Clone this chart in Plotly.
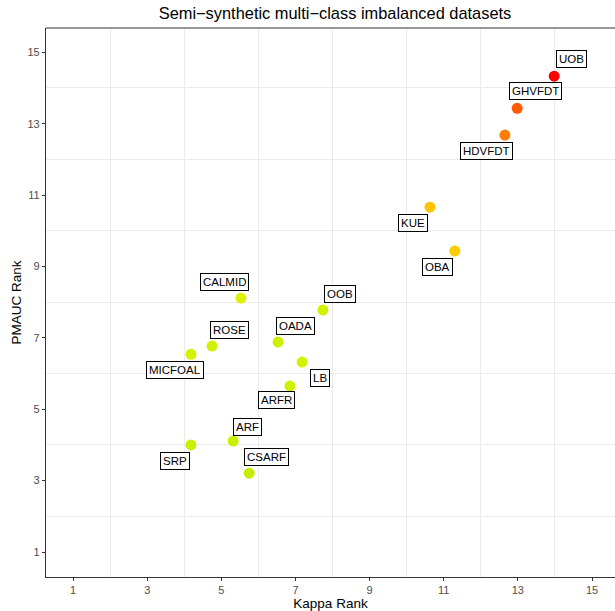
import plotly.graph_objects as go

methods = ["UOB", "GHVFDT", "HDVFDT", "KUE", "OBA", "CALMID", "OOB", "OADA",
           "ROSE", "MICFOAL", "LB", "ARFR", "ARF", "SRP", "CSARF"]
kappa_rank = [13.98, 12.98, 12.65, 10.63, 11.30, 5.53, 7.74, 6.53,
              4.75, 4.18, 7.18, 6.85, 5.32, 4.18, 5.75]
pmauc_rank = [14.33, 13.43, 12.68, 10.66, 9.43, 8.11, 7.78, 6.88,
              6.77, 6.54, 6.32, 5.65, 4.11, 4.00, 3.21]
point_colors = ["#FF0000", "#FF5A00", "#FF7D00", "#FFC400", "#FFCC00", "#DDF000", "#D2F000", "#CDF000",
                "#D2F000", "#D2F200", "#D0F200", "#CFF200", "#C8F000", "#C8F000", "#C4EE00"]
# label offsets in pixels (x right, y up)
label_dx = [17, 18, -18, -17, -17, -16, 17, 17, 17, -16, 18, -13, 14, -16, 17]
label_dy = [17, 17, -16, -16, -16, 16, 16, 16, 16, -16, -16, -14, 14, -16, 16]
tick_vals = [1, 3, 5, 7, 9, 11, 13, 15]
grid_vals = [2, 4, 6, 8, 10, 12, 14]

FONT = "Liberation Sans, Arial, sans-serif"

fig = go.Figure()
fig.add_trace(go.Scatter(
    x=kappa_rank, y=pmauc_rank, mode="markers",
    marker=dict(size=11, color=point_colors, line=dict(width=0)),
    showlegend=False, hoverinfo="text", text=methods,
))

for m, x, y, dx, dy in zip(methods, kappa_rank, pmauc_rank, label_dx, label_dy):
    fig.add_annotation(
        x=x, y=y, text=m, showarrow=False, xshift=dx, yshift=dy,
        font=dict(family=FONT, size=11.5, color="black"),
        bgcolor="white", bordercolor="black", borderwidth=1, borderpad=2,
    )

axis_common = dict(
    tickvals=tick_vals, showgrid=False, zeroline=False, automargin=False,
    showline=True, linecolor="#333333", linewidth=1.2,
    ticks="outside", ticklen=3, tickcolor="#333333", tickwidth=1,
    tickfont=dict(family=FONT, size=11, color="#4D4D4D"),
    minor=dict(tickvals=grid_vals, showgrid=True, gridcolor="#EBEBEB", gridwidth=1, ticks=""),
)

fig.update_xaxes(range=[0.27, 15.62],
                 title=dict(text="Kappa Rank", standoff=2,
                            font=dict(family=FONT, size=13.5, color="black")),
                 **axis_common)
fig.update_yaxes(range=[0.3, 15.68],
                 title=dict(text="PMAUC Rank", standoff=2,
                            font=dict(family=FONT, size=13.5, color="black")),
                 **axis_common)

fig.add_shape(type="line", xref="paper", yref="paper", x0=0, x1=1, y0=1, y1=1,
              line=dict(color="#333333", width=1.2))

fig.update_layout(
    width=615, height=611,
    margin=dict(l=46, r=0, t=28, b=34, autoexpand=False),
    paper_bgcolor="white", plot_bgcolor="white",
    title=dict(text="Semi\u2212synthetic multi\u2212class imbalanced datasets",
               x=335 / 615, xanchor="center", xref="container",
               yref="container", y=1 - 13 / 611, yanchor="middle",
               font=dict(family=FONT, size=16.4, color="black")),
)

fig.write_html("out.html", config={"displayModeBar": False},
               post_script="document.body.style.margin='0';document.body.style.overflow='hidden';")
